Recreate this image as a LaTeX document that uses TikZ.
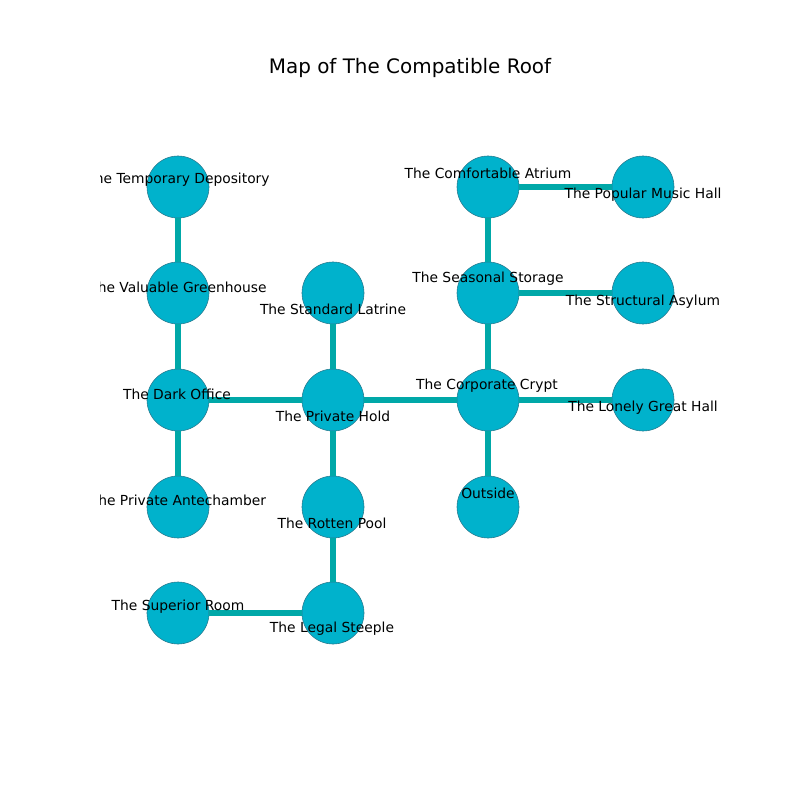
\documentclass[tikz,border=0pt]{standalone}
\usepackage{fontspec}
\setmainfont{DejaVu Sans}
\definecolor{roomfill}{RGB}{0,178,204}
\definecolor{roomline}{RGB}{40,120,140}
\definecolor{corridor}{RGB}{0,168,168}
\tikzset{
	room/.style={circle, fill=roomfill, draw=roomline, line width=0.4pt, minimum size=0.62in, inner sep=0pt},
	pass/.style={draw=corridor, line width=4.2pt},
	tag/.style={inner sep=0pt, font=\fontsize{10}{12}\selectfont}
}
\begin{document}
\begin{tikzpicture}[x=0.01in, y=-0.01in, line cap=butt, line join=round]
				\useasboundingbox (0,0) rectangle (800,800);
				\node[font=\fontsize{14.4}{17}\selectfont] (title) at (410,68) {Map of The Compatible Roof};
				\begin{scope}
				\clip (100,96) rectangle (720,712);
				% rooms
				\node[room] (TD) at (178,187) {};
				\node[room] (VG) at (178,293) {};
				\node[room] (DO) at (178,400) {};
				\node[room] (PA) at (178,507) {};
				\node[room] (SR) at (178,613) {};
				\node[room] (SL) at (333,293) {};
				\node[room] (PH) at (333,400) {};
				\node[room] (RP) at (333,507) {};
				\node[room] (LS) at (333,613) {};
				\node[room] (CA) at (488,187) {};
				\node[room] (SS) at (488,293) {};
				\node[room] (CC) at (488,400) {};
				\node[room] (OU) at (488,507) {};
				\node[room] (PM) at (643,187) {};
				\node[room] (SA) at (643,293) {};
				\node[room] (LG) at (643,400) {};
				% corridors
				\draw[pass]
				(TD)--(VG) (VG)--(DO) (DO)--(PA) (DO)--(PH)
				(SL)--(PH) (PH)--(RP) (RP)--(LS) (SR)--(LS)
				(PH)--(CC) (CA)--(SS) (SS)--(CC) (CC)--(OU)
				(CA)--(PM) (SS)--(SA) (CC)--(LG);
				% labels
				\foreach \n/\x/\y/\t in {
					TD/178/180/The Temporary Depository,
					VG/178/287/The Valuable Greenhouse,
					DO/177/394/The Dark Office,
					PA/178/500/The Private Antechamber,
					SR/178/607/The Superior Room,
					SL/333/309/The Standard Latrine,
					PH/333/416/The Private Hold,
					RP/332/523/The Rotten Pool,
					LS/332/629/The Legal Steeple,
					CA/488/173/The Comfortable Atrium,
					SS/488/279/The Seasonal Storage,
					CC/487/386/The Corporate Crypt,
					OU/488/493/Outside,
					PM/643/195/The Popular Music Hall,
					SA/643/302/The Structural Asylum,
					LG/643/408/The Lonely Great Hall} {
					\node[tag] (l\n) at (\x,\y) {\t};
				}
				\end{scope}
			\end{tikzpicture}
\end{document}
